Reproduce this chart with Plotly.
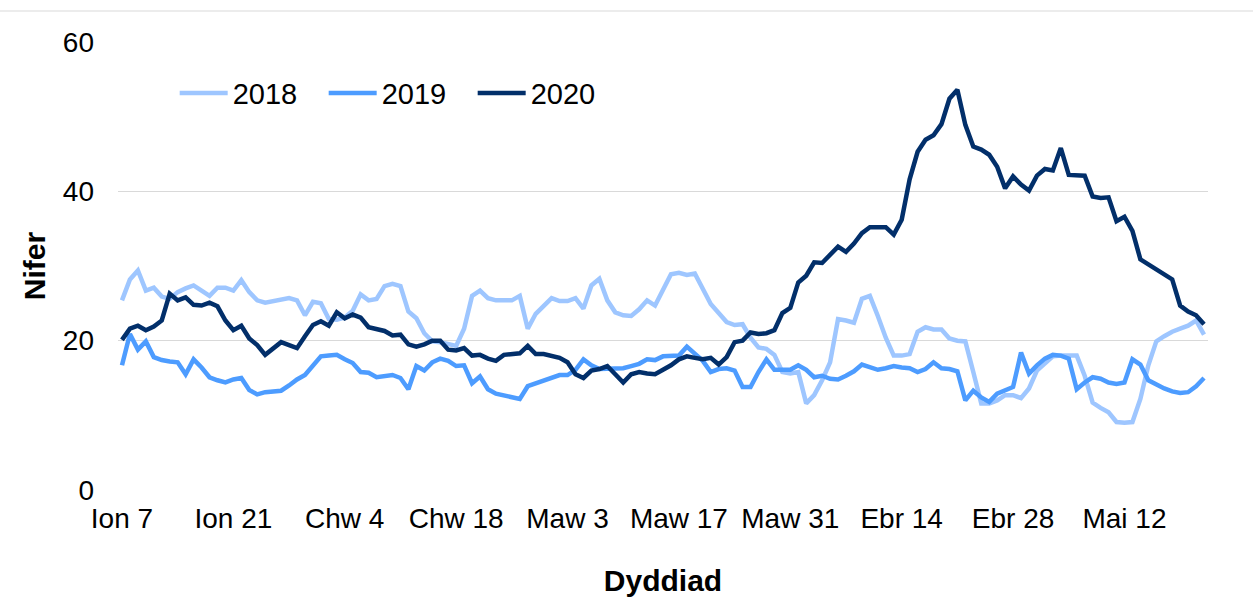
import pandas as pd
import plotly.graph_objects as go

dates = pd.date_range("2020-01-07", periods=137, freq="D")

tick_dates = ["2020-01-07", "2020-01-21", "2020-02-04", "2020-02-18", "2020-03-03",
              "2020-03-17", "2020-03-31", "2020-04-14", "2020-04-28", "2020-05-12"]
tick_labels = ["Ion 7", "Ion 21", "Chw 4", "Chw 18", "Maw 3",
               "Maw 17", "Maw 31", "Ebr 14", "Ebr 28", "Mai 12"]

y2018 = [25.4, 28.2, 29.4, 26.7, 27.1, 25.9, 25.6, 26.5, 27.0, 27.4,
         26.7, 26.0, 27.1, 27.1, 26.7, 28.1, 26.5, 25.4, 25.1, 25.3,
         25.4, 25.7, 25.4, 23.4, 25.2, 25.0, 22.9, 22.8, 23.1, 24.0,
         26.2, 25.4, 25.6, 27.3, 27.6, 27.3, 23.9, 23.0, 21.0, 19.9,
         19.8, 19.6, 19.3, 21.6, 26.0, 26.7, 25.7, 25.4, 25.4, 25.4,
         26.0, 21.6, 23.6, 24.6, 25.7, 25.3, 25.3, 25.7, 24.3, 27.4,
         28.3, 25.4, 23.8, 23.4, 23.3, 24.2, 25.4, 24.7, 26.7, 28.9,
         29.1, 28.8, 29.0, 27.1, 24.9, 23.7, 22.5, 22.1, 22.2, 20.4,
         19.1, 18.9, 18.1, 15.8, 15.6, 15.8, 11.6, 12.7, 14.7, 17.1,
         22.9, 22.7, 22.4, 25.6, 26.0, 23.3, 20.4, 18.0, 18.0, 18.2,
         21.2, 21.8, 21.5, 21.5, 20.3, 20.0, 19.9, 15.8, 11.6, 11.6,
         12.0, 12.7, 12.7, 12.3, 13.6, 16.0, 17.0, 17.9, 18.0, 18.0,
         18.0, 15.3, 11.7, 11.0, 10.4, 9.1, 9.0, 9.1, 12.2, 16.7,
         19.9, 20.6, 21.2, 21.6, 22.0, 22.7, 20.8]

y2019 = [16.7, 20.9, 18.8, 19.9, 17.8, 17.4, 17.2, 17.1, 15.5, 17.5,
         16.4, 15.1, 14.7, 14.4, 14.8, 15.0, 13.4, 12.8, 13.1, 13.2,
         13.3, 14.0, 14.8, 15.4, 16.7, 17.9, 18.0, 18.1, 17.5, 17.0,
         15.8, 15.7, 15.1, 15.2, 15.4, 15.0, 13.5, 16.6, 16.0, 17.1,
         17.6, 17.3, 16.6, 16.7, 14.3, 15.2, 13.5, 12.9, 12.7, 12.5,
         12.2, 13.9, 14.3, 14.7, 15.1, 15.4, 15.4, 16.1, 17.5, 16.7,
         16.2, 16.2, 16.2, 16.3, 16.6, 16.9, 17.5, 17.4, 17.9, 17.9,
         18.0, 19.2, 18.2, 17.3, 15.8, 16.2, 16.3, 16.0, 13.8, 13.8,
         15.8, 17.5, 16.1, 16.1, 16.1, 16.7, 16.1, 15.1, 15.3, 14.9,
         14.8, 15.3, 15.9, 16.8, 16.4, 16.1, 16.3, 16.6, 16.4, 16.3,
         15.8, 16.2, 17.1, 16.3, 16.2, 15.9, 12.0, 13.3, 12.4, 11.8,
         12.9, 13.3, 13.8, 18.4, 15.6, 16.7, 17.6, 18.1, 18.0, 17.6,
         13.5, 14.4, 15.1, 14.9, 14.4, 14.2, 14.4, 17.5, 16.8, 14.7,
         14.1, 13.6, 13.2, 13.0, 13.1, 13.9, 15.0]

y2020 = [20.1, 21.6, 22.0, 21.4, 21.9, 22.7, 26.3, 25.4, 25.8, 24.8,
         24.7, 25.1, 24.6, 22.7, 21.4, 22.0, 20.3, 19.4, 18.1, 18.9,
         19.8, 19.4, 19.0, 20.6, 22.1, 22.6, 22.0, 23.8, 23.0, 23.5,
         23.1, 21.8, 21.6, 21.3, 20.7, 20.8, 19.5, 19.2, 19.5, 20.0,
         20.0, 18.8, 18.7, 19.0, 18.0, 18.1, 17.6, 17.3, 18.1, 18.2,
         18.3, 19.3, 18.2, 18.2, 18.0, 17.7, 17.1, 15.5, 15.0, 16.0,
         16.2, 16.6, 15.5, 14.4, 15.5, 15.8, 15.6, 15.5, 16.1, 16.7,
         17.5, 17.9, 17.7, 17.5, 17.7, 16.8, 17.8, 19.8, 20.0, 21.1,
         20.9, 21.0, 21.4, 23.7, 24.4, 27.8, 28.7, 30.5, 30.4, 31.4,
         32.6, 31.9, 33.0, 34.4, 35.2, 35.2, 35.2, 34.2, 36.2, 41.6,
         45.3, 46.9, 47.5, 49.0, 52.4, 53.6, 48.9, 46.0, 45.6, 44.9,
         43.3, 40.4, 42.0, 40.9, 40.1, 42.1, 43.0, 42.8, 45.8, 42.2,
         42.1, 42.1, 39.3, 39.1, 39.2, 36.0, 36.6, 34.7, 30.9, 30.2,
         29.6, 28.9, 28.2, 24.7, 23.9, 23.4, 22.2]

series = [("2018", y2018, "#9EC6FF"), ("2019", y2019, "#4D9CFF"), ("2020", y2020, "#022F6A")]

fig = go.Figure()
for name, ys, col in series:
    fig.add_trace(go.Scatter(x=dates, y=ys, name=name, mode="lines",
                             line=dict(color=col, width=4.5)))

FONT = "Liberation Sans, Arial, sans-serif"
fig.update_layout(
    width=1253, height=616,
    margin=dict(l=118, r=45, t=42, b=126),
    paper_bgcolor="white", plot_bgcolor="white",
    font=dict(family=FONT, size=28, color="#000000"),
    showlegend=True,
    legend=dict(orientation="h", x=0.052, y=0.886, xanchor="left", yanchor="middle",
                font=dict(size=29), bgcolor="rgba(0,0,0,0)",
                entrywidth=86, entrywidthmode="pixels", itemwidth=48),
    xaxis=dict(
        type="date",
        range=["2020-01-06 12:00", "2020-05-22 12:00"],
        tickmode="array", tickvals=tick_dates, ticktext=tick_labels,
        showgrid=False, zeroline=False, showline=False, ticks="",
        tickfont=dict(size=28), ticklabelstandoff=9,
        title=dict(text="<b>Dyddiad</b>", font=dict(size=30), standoff=36),
        automargin=False,
    ),
    yaxis=dict(
        range=[0, 60], tickvals=[0, 20, 40, 60],
        showgrid=True, gridcolor="#D9D9D9", gridwidth=1,
        zeroline=False, showline=False, ticks="",
        tickfont=dict(size=28), ticklabelstandoff=23,
        title=dict(text="<b>Nifer</b>", font=dict(size=30), standoff=8),
        automargin=False,
    ),
)
fig.add_shape(type="line", xref="paper", yref="paper", x0=-0.2, x1=1.2,
              y0=1 + 31 / 448, y1=1 + 31 / 448,
              line=dict(color="#D9D9D9", width=1))

fig.write_html("out.html", config={"displayModeBar": False},
               post_script="document.body.style.margin='0';")
